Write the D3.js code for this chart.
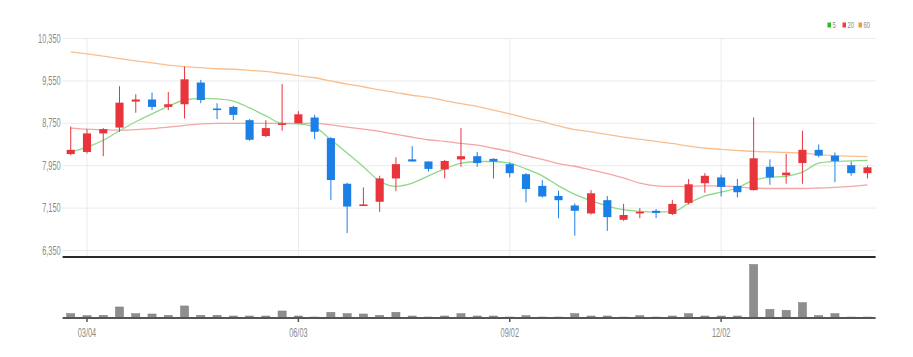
<!DOCTYPE html>
<html>
<head>
<meta charset="utf-8">
<script src="https://cdn.jsdelivr.net/npm/d3@7"></script>
<style>
  html, body { margin: 0; padding: 0; background: #ffffff; }
  svg { display: block; }
</style>
</head>
<body>
<svg id="chart" width="913" height="357"></svg>
<script>
const dates = ["02/26","03/04","03/11","03/18","03/25","04/01","04/08","04/15","04/22","04/29",
  "05/06","05/13","05/20","05/27","06/03","06/10","06/17","06/24","07/01","07/08",
  "07/15","07/22","07/29","08/05","08/12","08/19","08/26","09/02","09/09","09/16",
  "09/23","09/30","10/07","10/14","10/21","10/28","11/04","11/11","11/18","11/25",
  "12/02","12/09","12/16","12/23","12/30","01/06","01/13","01/20","01/27","02/03"];

const open  = [8160,8200,8550,8660,9150,9190,9050,9100,9510,9020,9050,8800,8500,8710,8740,8850,8460,7600,7180,7260,
               7700,8060,8020,7870,8060,8120,8070,7970,7780,7560,7370,7190,7040,7290,6920,7040,7090,7030,7240,7610,
               7720,7560,7480,7920,7760,7990,8240,8130,7950,7800];
const high  = [8680,8630,8650,9440,9290,9320,9330,9810,9560,9120,9070,8820,8800,9480,8970,8900,8480,7620,7530,7750,
               8100,8310,8020,8050,8650,8200,8080,8000,7800,7670,7470,7230,7480,7370,7220,7140,7120,7290,7690,7800,
               7770,7690,8850,8060,8160,8600,8340,8190,8020,7940];
const low   = [8140,8170,8120,8580,8940,8990,8990,8830,9120,8820,8800,8410,8480,8600,8740,8440,7290,6670,7180,7070,
               7460,8020,7830,7700,7920,7920,7700,7720,7250,7340,6950,6620,7020,6710,6900,6950,6950,7010,7210,7430,
               7360,7340,7470,7580,7600,7600,8100,7630,7750,7700];
const close = [8240,8550,8630,9130,9190,9050,9100,9570,9180,9000,8900,8430,8650,8740,8910,8580,7670,7170,7210,7700,
               7970,8020,7880,8030,8120,7990,8020,7800,7500,7360,7290,7090,7420,6970,7010,7070,7050,7220,7590,7750,
               7540,7440,8080,7720,7810,8240,8130,8030,7800,7910];
const volume = [130,70,80,330,130,120,80,360,80,80,60,60,60,210,60,30,170,130,120,80,
                170,60,30,60,130,60,60,30,70,30,30,130,60,60,30,70,30,60,130,60,
                60,60,1600,260,230,460,70,130,30,30];

const ma5  = [8200,8290,8420,8600,8770,8920,9060,9180,9210,9200,9160,9030,8880,8740,8730,8670,8430,8180,7920,7650,
              7550,7610,7750,7880,7990,8020,8020,7990,7880,7750,7560,7400,7280,7180,7110,7080,7070,7070,7230,7370,
              7440,7520,7670,7720,7740,7820,7990,8020,8030,8040];
const ma20 = [8650,8630,8620,8610,8620,8640,8670,8700,8730,8740,8740,8740,8740,8740,8740,8740,8710,8670,8630,8590,
              8530,8480,8430,8400,8360,8330,8270,8210,8130,8060,7980,7930,7860,7790,7710,7610,7560,7550,7550,7560,
              7560,7540,7520,7510,7510,7510,7520,7530,7550,7580];
const ma60 = [10090,10050,10010,9960,9920,9880,9840,9810,9790,9770,9760,9740,9720,9680,9640,9600,9540,9480,9430,9370,
              9320,9270,9230,9170,9110,9060,8990,8920,8840,8770,8690,8620,8580,8530,8480,8440,8400,8360,8310,8270,
              8250,8230,8210,8200,8190,8180,8150,8130,8120,8110];

const yTicks = [6350,7150,7950,8750,9550,10350];
const xTickLabels = ["03/04","06/03","09/02","12/02"];
const legendNames = ["5","20","60"];

const upColor = "#e8343b", downColor = "#1b7fe6";
const maColors = ["#8fd88a","#f5a5a5","#f8bf90"];
const legendColors = ["#2dbb2d","#f03c40","#f39a35"];
const FONT = "'Liberation Sans', Arial, sans-serif";
const SX = 0.615;

const svg = d3.select("#chart");
const left = 62.6, right = 875.6;

const x = d3.scaleBand().domain(dates).range([left, right]).paddingInner(0.5).paddingOuter(0.25);
const cx = d => x(d) + x.bandwidth() / 2;
const y = d3.scaleLinear().domain([6350, 10350]).range([250, 38]);
const yv = d3.scaleLinear().domain([0, 1600]).range([318, 264.5]);

// horizontal grid + y labels
const yAxis = svg.append("g").attr("transform", `translate(${left},0)`)
  .call(d3.axisLeft(y).tickValues(yTicks).tickFormat(d3.format(",")).tickSize(-(right - left)).tickPadding(0));
yAxis.select(".domain").remove();
yAxis.selectAll(".tick line").attr("stroke", "#ebebeb").attr("stroke-width", 1);
yAxis.selectAll(".tick text")
  .attr("x", -2 / SX).attr("dy", "0.34em")
  .attr("transform", `scale(${SX},1)`)
  .attr("fill", "#8a8a8a").style("font-family", FONT).style("font-size", "12px");

// vertical grid at date ticks
svg.append("g").selectAll("line").data(xTickLabels).join("line")
  .attr("x1", d => cx(d)).attr("x2", d => cx(d))
  .attr("y1", 38).attr("y2", 256)
  .attr("stroke", "#ebebeb").attr("stroke-width", 1);

// separator
svg.append("line").attr("x1", left).attr("x2", right).attr("y1", 257).attr("y2", 257)
  .attr("stroke", "#2b2b2b").attr("stroke-width", 2);

// MA lines
[ma60, ma20, ma5].forEach((arr, k) => {
  const col = [maColors[2], maColors[1], maColors[0]][k];
  const line = d3.line().x((v, i) => cx(dates[i])).y(v => y(v)).curve(d3.curveMonotoneX);
  svg.append("path").attr("d", line(arr)).attr("fill", "none")
    .attr("stroke", col).attr("stroke-width", 1.3);
});

// candles
const candles = svg.append("g").selectAll("g").data(dates).join("g");
candles.append("line")
  .attr("x1", (d) => cx(d)).attr("x2", d => cx(d))
  .attr("y1", (d, i) => y(high[i])).attr("y2", (d, i) => y(low[i]))
  .attr("stroke", (d, i) => close[i] >= open[i] ? upColor : downColor).attr("stroke-width", 1);
candles.append("rect")
  .attr("x", d => x(d)).attr("width", x.bandwidth())
  .attr("y", (d, i) => y(Math.max(open[i], close[i])))
  .attr("height", (d, i) => Math.max(1.6, Math.abs(y(open[i]) - y(close[i]))))
  .attr("fill", (d, i) => close[i] >= open[i] ? upColor : downColor);

// volume bars
svg.append("g").selectAll("rect").data(dates).join("rect")
  .attr("x", d => x(d)).attr("width", x.bandwidth())
  .attr("y", (d, i) => yv(volume[i])).attr("height", (d, i) => yv(0) - yv(volume[i]))
  .attr("fill", "#8e8e8e").attr("stroke", "#7a7a7a").attr("stroke-width", 0.5);

// x axis
const xAxis = svg.append("g").attr("transform", "translate(0,318)")
  .call(d3.axisBottom(x).tickValues(xTickLabels).tickSize(4).tickSizeOuter(0));
xAxis.select(".domain").attr("d", `M${left},0H${right}`).attr("stroke", "#555").attr("stroke-width", 2);
xAxis.selectAll(".tick line").attr("stroke", "#555").attr("stroke-width", 1.5);
xAxis.selectAll(".tick text")
  .attr("y", 19).attr("dy", 0)
  .attr("transform", `scale(${SX},1)`)
  .attr("fill", "#8a8a8a").style("font-family", FONT).style("font-size", "12px");
// keep horizontal position after scaling
xAxis.selectAll(".tick text").attr("x", 0);

// legend
const legendX = [827.5, 842.5, 858.5];
const lg = svg.append("g");
legendNames.forEach((n, i) => {
  lg.append("rect").attr("x", legendX[i]).attr("y", 22.5).attr("width", 3.5).attr("height", 5)
    .attr("fill", legendColors[i]);
  lg.append("text").attr("transform", `translate(${legendX[i] + 5},28) scale(${SX},1)`)
    .attr("fill", "#8a8a8a").style("font-family", FONT).style("font-size", "9.5px").text(n);
});
</script>
</body>
</html>
